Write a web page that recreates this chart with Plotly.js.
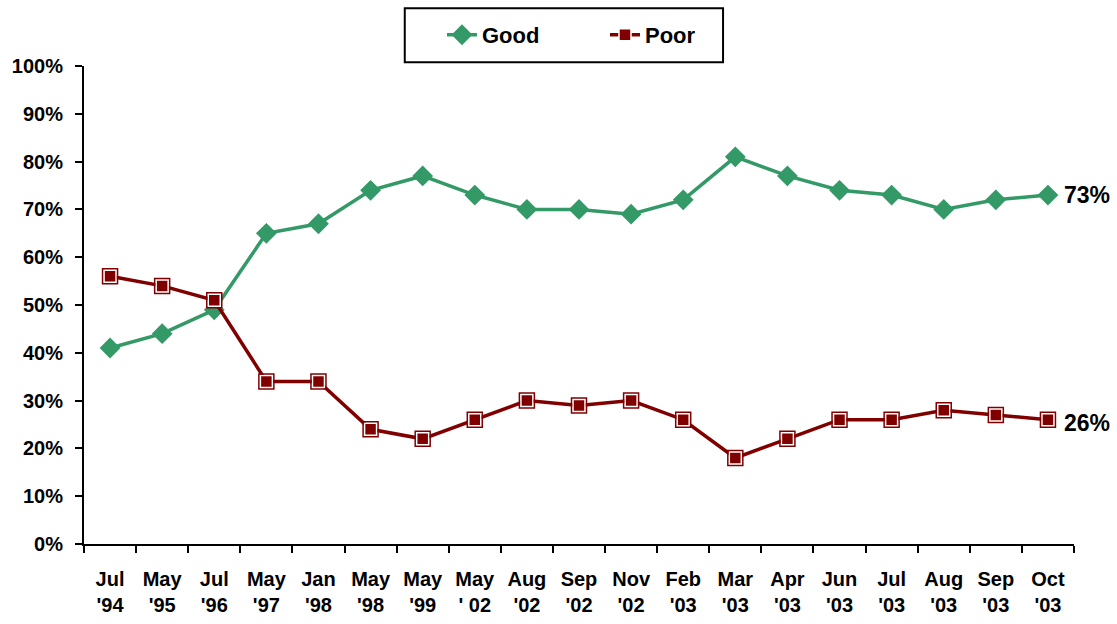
<!DOCTYPE html>
<html>
<head>
<meta charset="utf-8">
<script src="https://cdn.plot.ly/plotly-3.0.1.min.js"></script>
<style>html,body{margin:0;padding:0;background:#fff;}#chart{width:1117px;height:624px;}</style>
</head>
<body>
<div id="chart"></div>
<script>
var categories = ["Jul<br>'94","May<br>'95","Jul<br>'96","May<br>'97","Jan<br>'98","May<br>'98","May<br>'99","May<br>' 02","Aug<br>'02","Sep<br>'02","Nov<br>'02","Feb<br>'03","Mar<br>'03","Apr<br>'03","Jun<br>'03","Jul<br>'03","Aug<br>'03","Sep<br>'03","Oct<br>'03"];
var good = [41,44,49,65,67,74,77,73,70,70,69,72,81,77,74,73,70,72,73];
var poor = [56,54,51,34,34,24,22,26,30,29,30,26,18,22,26,26,28,27,26];
var yTicks = [0,10,20,30,40,50,60,70,80,90,100];
var yTickLabels = ["0%","10%","20%","30%","40%","50%","60%","70%","80%","90%","100%"];

var FONT = "'Liberation Sans Narrow', 'Arial Narrow', 'Liberation Sans', Arial, sans-serif";
var GREEN = "#339966", RED = "#800000";

var traces = [
  {x: categories, y: good, name: "Good", type: "scatter", mode: "lines+markers",
   line: {color: GREEN, width: 3.5},
   marker: {symbol: "diamond", size: 16, color: GREEN}},
  {x: categories, y: poor, name: "Poor", type: "scatter", mode: "lines+markers",
   line: {color: RED, width: 3.5},
   marker: {symbol: "square", size: 12, color: RED, line: {color: "#ffffff", width: 1.5}}},
  {x: categories, y: poor, name: "Poor outline", type: "scatter", mode: "markers", showlegend: false,
   hoverinfo: "skip",
   marker: {symbol: "square-open", size: 15, color: RED, line: {color: RED, width: 1.5}}}
];

var last = categories.length - 1;
var layout = {
  width: 1117, height: 624,
  margin: {l: 84, r: 43, t: 66, b: 80, autoexpand: false},
  paper_bgcolor: "#fff", plot_bgcolor: "#fff",
  font: {family: FONT, color: "#000", size: 20, weight: "bold"},
  showlegend: true,
  legend: {orientation: "h", x: 0.3616, xref: "paper", xanchor: "left", y: 1.065, yanchor: "middle",
    borderwidth: 0, bgcolor: "rgba(0,0,0,0)",
    font: {family: FONT, size: 22, color: "#000", weight: "bold"},
    itemwidth: 30, entrywidth: 118, traceorder: "normal"},
  shapes: [
    {type: "rect", xref: "paper", yref: "paper", x0: 0.324, x1: 0.6455, y0: 1.008, y1: 1.121,
     line: {color: "#000", width: 2}, fillcolor: "rgba(0,0,0,0)", layer: "below"}
  ],
  xaxis: {type: "category", range: [-0.5, last + 0.5], tickson: "boundaries",
    showline: true, linecolor: "#000", linewidth: 2, ticks: "outside", ticklen: 7, tickwidth: 2, tickcolor: "#000",
    showgrid: false, zeroline: false, tickangle: 0, ticklabelstandoff: 16,
    tickfont: {family: FONT, size: 20, color: "#000", weight: "bold"}},
  yaxis: {range: [0, 100], tickvals: yTicks, ticktext: yTickLabels,
    showline: true, linecolor: "#000", linewidth: 2, ticks: "outside", ticklen: 7, tickwidth: 2, tickcolor: "#000",
    showgrid: false, zeroline: false, ticklabelstandoff: 8,
    tickfont: {family: FONT, size: 20, color: "#000", weight: "bold"}},
  annotations: [
    {x: categories[last], y: good[last], xref: "x", yref: "y", text: good[last] + "%", showarrow: false,
     xanchor: "left", xshift: 14, font: {family: FONT, size: 23, color: "#000", weight: "bold"}},
    {x: categories[last], y: poor[last], xref: "x", yref: "y", text: poor[last] + "%", showarrow: false,
     xanchor: "left", xshift: 14, yshift: -3, font: {family: FONT, size: 23, color: "#000", weight: "bold"}}
  ]
};
Plotly.newPlot("chart", traces, layout, {displayModeBar: false, staticPlot: true});
</script>
</body>
</html>
